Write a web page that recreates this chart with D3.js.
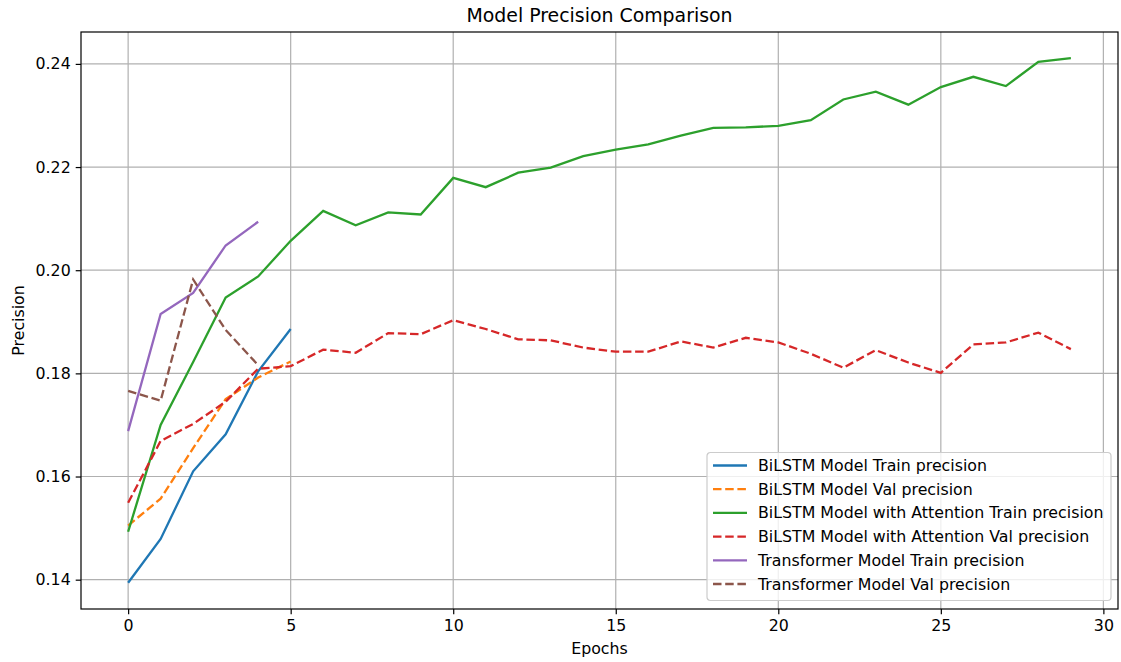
<!DOCTYPE html>
<html>
<head>
<meta charset="utf-8">
<script src="https://cdn.jsdelivr.net/npm/d3@7"></script>
<style>
  body { margin: 0; background: #fff; }
  text { font-family: "DejaVu Sans", sans-serif; fill: #000; }
</style>
</head>
<body>
<script>
// values
var bilstmTrain = [0.1394, 0.1479, 0.1610, 0.1682, 0.1804, 0.1886];
var bilstmVal   = [0.1505, 0.1557, 0.1655, 0.1750, 0.1792, 0.1823];
var attnTrain = [0.1493, 0.1700, 0.1822, 0.1947, 0.1988, 0.2057,
                 0.2115, 0.2087, 0.2112, 0.2108, 0.2179, 0.2161,
                 0.2189, 0.2199, 0.2221, 0.2234, 0.2244, 0.2261,
                 0.2276, 0.2277, 0.2280, 0.2291, 0.2331, 0.2346,
                 0.2321, 0.2355, 0.2375, 0.2357, 0.2404, 0.2411];
var attnVal = [0.1549, 0.1669, 0.1702, 0.1745, 0.1809, 0.1814,
               0.1846, 0.1840, 0.1878, 0.1876, 0.1903, 0.1886,
               0.1866, 0.1864, 0.1850, 0.1842, 0.1842, 0.1862,
               0.1850, 0.1869, 0.1860, 0.1838, 0.1811, 0.1845,
               0.1821, 0.1801, 0.1856, 0.1860, 0.1879, 0.1847];
var transTrain = [0.1688, 0.1915, 0.1956, 0.2048, 0.2094];
var transVal   = [0.1766, 0.1747, 0.1982, 0.1884, 0.1816];

var seriesNames = [
  "BiLSTM Model Train precision",
  "BiLSTM Model Val precision",
  "BiLSTM Model with Attention Train precision",
  "BiLSTM Model with Attention Val precision",
  "Transformer Model Train precision",
  "Transformer Model Val precision"
];
var seriesValues = [bilstmTrain, bilstmVal, attnTrain, attnVal, transTrain, transVal];
var seriesDashed = [false, true, false, true, false, true];
var colors = ["#1f77b4", "#ff7f0e", "#2ca02c", "#d62728", "#9467bd", "#8c564b"];

var xTicks = [0, 5, 10, 15, 20, 25, 30];
var yTicks = [0.14, 0.16, 0.18, 0.20, 0.22, 0.24];

var w = 1121, h = 662;
var mLeft = 81, mRight = 1118, mTop = 32, mBottom = 609;
var fs = 15.8;

var svg = d3.select("body").append("svg")
  .attr("width", w)
  .attr("height", h);

// matplotlib style 5% margins
var xMax = d3.max(seriesValues, function(s) { return s.length - 1; });
var yMin = d3.min(seriesValues, function(s) { return d3.min(s); });
var yMax = d3.max(seriesValues, function(s) { return d3.max(s); });
var xPad = xMax * 0.05, yPad = (yMax - yMin) * 0.05;

var xScale = d3.scaleLinear()
  .domain([-xPad, xMax + xPad])
  .range([mLeft, mRight]);
var yScale = d3.scaleLinear()
  .domain([yMin - yPad, yMax + yPad])
  .range([mBottom, mTop]);

// grid
svg.append("g")
  .selectAll("line")
  .data(xTicks.filter(function(t) { return xScale(t) <= mRight; }))
  .enter().append("line")
  .attr("x1", function(d) { return xScale(d); })
  .attr("x2", function(d) { return xScale(d); })
  .attr("y1", mTop).attr("y2", mBottom)
  .attr("stroke", "#b0b0b0").attr("stroke-width", 1.2);
svg.append("g")
  .selectAll("line")
  .data(yTicks)
  .enter().append("line")
  .attr("x1", mLeft).attr("x2", mRight)
  .attr("y1", function(d) { return yScale(d); })
  .attr("y2", function(d) { return yScale(d); })
  .attr("stroke", "#b0b0b0").attr("stroke-width", 1.2);

// lines
var line = d3.line()
  .x(function(d, i) { return xScale(i); })
  .y(function(d) { return yScale(d); });

svg.append("g")
  .selectAll("path")
  .data(seriesValues)
  .enter().append("path")
  .attr("d", line)
  .attr("fill", "none")
  .attr("stroke", function(d, i) { return colors[i]; })
  .attr("stroke-width", 2.3)
  .attr("stroke-dasharray", function(d, i) { return seriesDashed[i] ? "8.5,3.7" : null; });

// axes
var xAxis = d3.axisBottom(xScale).tickValues(xTicks).tickSize(5.3).tickPadding(5).tickFormat(d3.format("d"));
var yAxis = d3.axisLeft(yScale).tickValues(yTicks).tickSize(5.3).tickPadding(5).tickFormat(d3.format(".2f"));

var gx = svg.append("g")
  .attr("transform", "translate(0," + mBottom + ")")
  .call(xAxis);
var gy = svg.append("g")
  .attr("transform", "translate(" + mLeft + ",0)")
  .call(yAxis);
[gx, gy].forEach(function(g) {
  g.select(".domain").remove();
  g.selectAll("line").attr("stroke", "#000").attr("stroke-width", 1.2);
  g.selectAll("text")
    .style("font-family", "DejaVu Sans, sans-serif")
    .style("font-size", fs + "px")
    .attr("fill", "#222");
});

// frame
svg.append("rect")
  .attr("x", mLeft).attr("y", mTop)
  .attr("width", mRight - mLeft).attr("height", mBottom - mTop)
  .attr("fill", "none").attr("stroke", "#000").attr("stroke-width", 1.2);

// titles
svg.append("text")
  .attr("x", (mLeft + mRight) / 2).attr("y", 22)
  .attr("text-anchor", "middle")
  .style("font-size", "18.9px")
  .text("Model Precision Comparison");
svg.append("text")
  .attr("x", (mLeft + mRight) / 2).attr("y", 654)
  .attr("text-anchor", "middle")
  .style("font-size", fs + "px")
  .text("Epochs");
svg.append("text")
  .attr("transform", "translate(24," + ((mTop + mBottom) / 2) + ") rotate(-90)")
  .attr("text-anchor", "middle")
  .style("font-size", fs + "px")
  .text("Precision");

// legend
var lg = svg.append("g").attr("transform", "translate(707,452.5)");
lg.append("rect")
  .attr("width", 404).attr("height", 148)
  .attr("rx", 3.5).attr("ry", 3.5)
  .attr("fill", "#fff").attr("fill-opacity", 0.8)
  .attr("stroke", "#cccccc").attr("stroke-width", 1.2);
var rows = lg.selectAll("g.row")
  .data(seriesNames)
  .enter().append("g")
  .attr("class", "row")
  .attr("transform", function(d, i) { return "translate(0," + (13 + i * 23.7) + ")"; });
rows.append("line")
  .attr("x1", 6).attr("x2", 40)
  .attr("stroke", function(d, i) { return colors[i]; })
  .attr("stroke-width", 2.3)
  .attr("stroke-dasharray", function(d, i) { return seriesDashed[i] ? "8.5,3.7" : null; });
rows.append("text")
  .attr("x", 51).attr("y", 5.5)
  .style("font-size", fs + "px")
  .attr("fill", "#222")
  .text(function(d) { return d; });
</script>
</body>
</html>
